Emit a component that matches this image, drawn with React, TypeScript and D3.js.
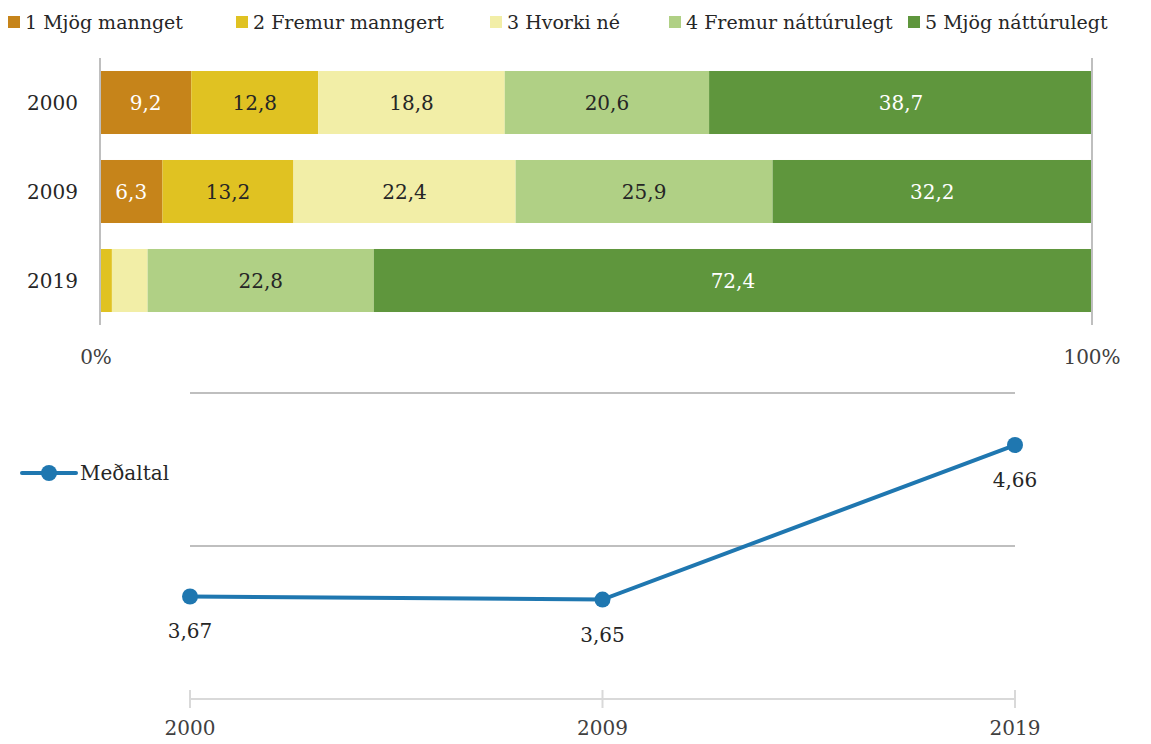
import React, { useEffect, useRef } from "react";
import * as d3 from "d3";

const years = ["2000", "2009", "2019"];
const seriesNames = [
  "1 Mjög mannget",
  "2 Fremur manngert",
  "3 Hvorki né",
  "4 Fremur náttúrulegt",
  "5 Mjög náttúrulegt",
];
const s1 = [9.2, 6.3, 0];
const s2 = [12.8, 13.2, 1.2];
const s3 = [18.8, 22.4, 3.6];
const s4 = [20.6, 25.9, 22.8];
const s5 = [38.7, 32.2, 72.4];
const meanValues = [3.67, 3.65, 4.66];
const meanTicks = [3, 4, 5];

const colors = ["#c6841a", "#e0c222", "#f2eea7", "#b0d085", "#5f963d"];
const labelColors = ["#ffffff", "#262626", "#262626", "#262626", "#ffffff"];
const legendX = [8, 236, 490, 669, 908];
const FONT = "'DejaVu Serif', 'Liberation Serif', serif";
const FS = 20;
const LEG_FS = 19;

const fmt = (v: number, d: number) => v.toFixed(d).replace(".", ",");

export default function App() {
  const svgRef = useRef<SVGSVGElement>(null);

  useEffect(() => {
    if (!svgRef.current) return;
    const svg = d3.select(svgRef.current);
    svg.selectAll("*").remove();
    svg.attr("font-family", FONT);

    const series = [s1, s2, s3, s4, s5];
    const rows = years.map((y, i) => {
      const r: any = { year: y };
      seriesNames.forEach((n, k) => (r[n] = series[k][i]));
      return r;
    });
    const stacked = d3.stack<any>().keys(seriesNames)(rows);

    // Legend
    const leg = svg.append("g");
    seriesNames.forEach((n, k) => {
      leg.append("rect").attr("x", legendX[k]).attr("y", 16).attr("width", 12).attr("height", 12).attr("fill", colors[k]);
      leg.append("text").attr("x", legendX[k] + 17).attr("y", 29).attr("font-size", LEG_FS).attr("fill", "#262626").text(n);
    });

    // Bar chart scales
    const x = d3.scaleLinear().domain([0, 100]).range([100, 1092]);
    const y = d3.scaleBand().domain(years).range([58, 325]).paddingInner(0.292).paddingOuter(0.146);

    stacked.forEach((layer, k) => {
      const g = svg.append("g");
      g.selectAll("rect")
        .data(layer)
        .join("rect")
        .attr("x", (d) => x(d[0]))
        .attr("y", (d) => y(d.data.year)!)
        .attr("width", (d) => Math.max(0, x(d[1]) - x(d[0])))
        .attr("height", y.bandwidth())
        .attr("fill", colors[k]);
      g.selectAll("text")
        .data(layer.filter((d) => d[1] - d[0] >= 5))
        .join("text")
        .attr("x", (d) => (x(d[0]) + x(d[1])) / 2)
        .attr("y", (d) => y(d.data.year)! + y.bandwidth() / 2 + 7)
        .attr("text-anchor", "middle")
        .attr("font-size", FS)
        .attr("fill", labelColors[k])
        .text((d) => fmt(d[1] - d[0], 1));
    });

    // bar axis lines
    [0, 100].forEach((v) => {
      svg.append("line").attr("x1", x(v)).attr("x2", x(v)).attr("y1", 58).attr("y2", 325).attr("stroke", "#bfbfbf").attr("stroke-width", 2);
      svg.append("text").attr("x", x(v) - (v === 0 ? 4 : 0)).attr("y", 364).attr("text-anchor", "middle").attr("font-size", FS).attr("fill", "#404040").text(`${v}%`);
    });
    years.forEach((yr) => {
      svg.append("text").attr("x", 78).attr("y", y(yr)! + y.bandwidth() / 2 + 7).attr("text-anchor", "end").attr("font-size", FS).attr("fill", "#262626").text(yr);
    });

    // Line chart
    const lx = d3.scalePoint().domain(years).range([190, 1015]);
    const ly = d3.scaleLinear().domain([3, 5]).range([699, 393]);

    meanTicks.slice(1).forEach((t) => {
      svg.append("line").attr("x1", 190).attr("x2", 1015).attr("y1", ly(t)).attr("y2", ly(t)).attr("stroke", "#bfbfbf").attr("stroke-width", 2);
    });
    svg.append("line").attr("x1", 190).attr("x2", 1015).attr("y1", ly(3)).attr("y2", ly(3)).attr("stroke", "#d9d9d9").attr("stroke-width", 2);
    years.forEach((yr) => {
      svg.append("line").attr("x1", lx(yr)!).attr("x2", lx(yr)!).attr("y1", ly(3) - 9).attr("y2", ly(3) + 9).attr("stroke", "#d9d9d9").attr("stroke-width", 2);
      svg.append("text").attr("x", lx(yr)!).attr("y", 735).attr("text-anchor", "middle").attr("font-size", FS).attr("fill", "#404040").text(yr);
    });

    const pts = years.map((yr, i) => ({ yr, v: meanValues[i] }));
    const line = d3.line<any>().x((d) => lx(d.yr)!).y((d) => ly(d.v));
    svg.append("path").datum(pts).attr("d", line).attr("fill", "none").attr("stroke", "#1f77b0").attr("stroke-width", 4);
    svg.selectAll(".pt").data(pts).join("circle").attr("cx", (d) => lx(d.yr)!).attr("cy", (d) => ly(d.v)).attr("r", 8).attr("fill", "#1f77b0");
    svg.selectAll(".pl").data(pts).join("text").attr("x", (d) => lx(d.yr)!).attr("y", (d) => ly(d.v) + 42).attr("text-anchor", "middle").attr("font-size", FS).attr("fill", "#262626").text((d) => fmt(d.v, 2));

    // line legend
    svg.append("line").attr("x1", 22).attr("x2", 76).attr("y1", 473).attr("y2", 473).attr("stroke", "#1f77b0").attr("stroke-width", 4).attr("stroke-linecap", "round");
    svg.append("circle").attr("cx", 49).attr("cy", 473).attr("r", 8).attr("fill", "#1f77b0");
    svg.append("text").attr("x", 80).attr("y", 480).attr("font-size", FS).attr("fill", "#262626").text("Meðaltal");
  }, []);

  return (
    <svg ref={svgRef} width={1151} height={744} style={{ position: "absolute", left: 0, top: 0, background: "#fff" }} />
  );
}
